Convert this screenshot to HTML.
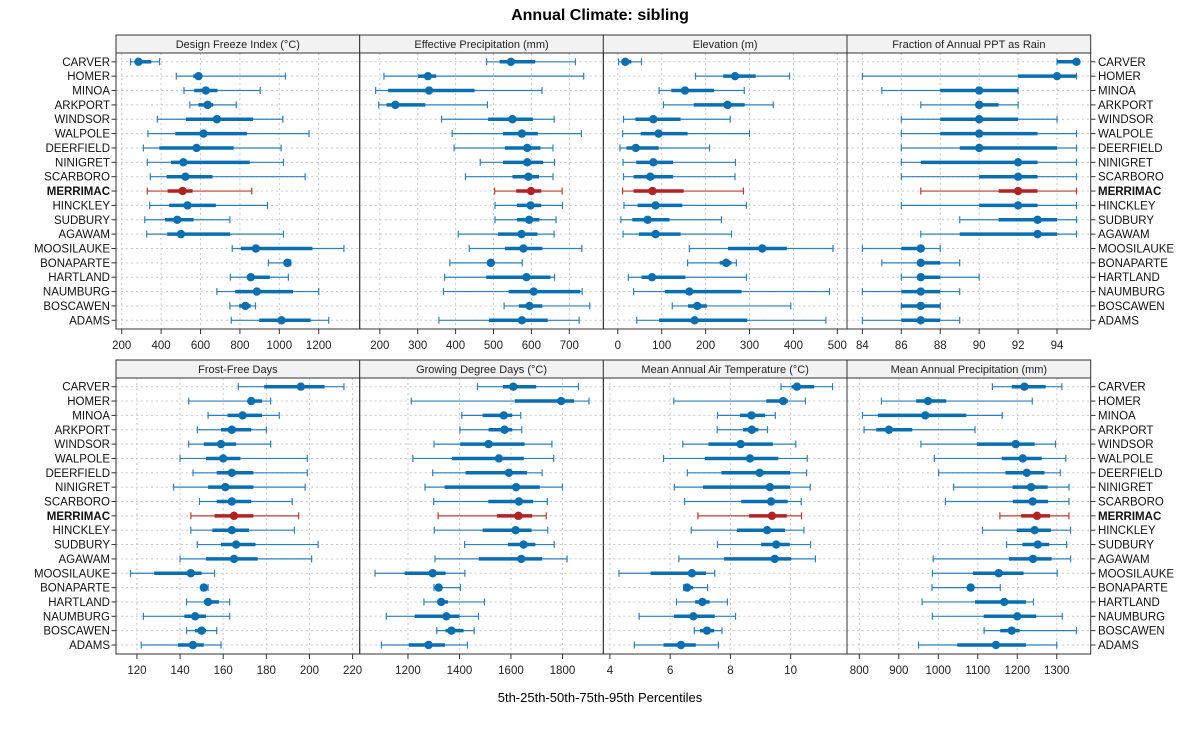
<!DOCTYPE html>
<html><head><meta charset="utf-8"><style>
body{margin:0;background:#fff;font-family:"Liberation Sans",sans-serif}
svg text{font-family:"Liberation Sans",sans-serif}
</style></head><body>
<svg id="chart" width="1200" height="725" viewBox="0 0 1200 725" xmlns="http://www.w3.org/2000/svg">
<text x="600" y="20" text-anchor="middle" font-size="16" font-weight="bold">Annual Climate: sibling</text>
<text x="600" y="702" text-anchor="middle" font-size="13">5th-25th-50th-75th-95th Percentiles</text>
</svg>
<script>
const sites=["CARVER","HOMER","MINOA","ARKPORT","WINDSOR","WALPOLE","DEERFIELD","NINIGRET","SCARBORO","MERRIMAC","HINCKLEY","SUDBURY","AGAWAM","MOOSILAUKE","BONAPARTE","HARTLAND","NAUMBURG","BOSCAWEN","ADAMS"];
const panelTitles=["Design Freeze Index (°C)","Effective Precipitation (mm)","Elevation (m)","Fraction of Annual PPT as Rain","Frost-Free Days","Growing Degree Days (°C)","Mean Annual Air Temperature (°C)","Mean Annual Precipitation (mm)"];
const domains=[[171,1408],[147,790],[-33,522],[83.21,95.73],[110.3,223.3],[1012.5,1959],[3.78,11.87],[768.8,1386]];
const ticks=[[200,400,600,800,1000,1200],[200,300,400,500,600,700],[0,100,200,300,400,500],[84,86,88,90,92,94],[120,140,160,180,200,220],[1200,1400,1600,1800],[4,6,8,10],[800,900,1000,1100,1200,1300]];
const freezeIndex=[[245,270,285,350,392],[477,563,590,600,1031],[516,568,627,686,903],[546,589,636,664,781],[381,526,683,867,1018],[333,472,615,835,1151],[310,391,580,768,1009],[330,450,513,850,1021],[345,428,523,661,1131],[330,433,509,560,860],[342,441,534,678,940],[317,420,482,565,749],[327,431,501,751,1021],[761,805,881,1168,1328],[945,1024,1041,1050,1058],[751,839,855,952,1046],[683,776,886,1070,1200],[749,796,828,855,879],[756,898,1011,1159,1251]];
const effPrecip=[[482,516,546,610,716],[211,301,327,349,738],[189,222,330,450,628],[197,218,241,320,484],[363,486,550,604,660],[391,525,575,617,732],[396,530,589,624,657],[465,525,589,631,661],[426,550,592,620,657],[503,560,599,626,681],[504,562,598,626,682],[504,562,594,621,665],[407,512,574,616,660],[436,530,579,629,733],[385,488,493,498,576],[371,481,587,650,661],[368,540,606,729,734],[528,567,595,629,754],[356,488,575,643,726]];
const elevation=[[2,11,17,31,54],[177,240,267,314,391],[94,122,153,219,288],[104,173,250,289,354],[13,40,81,143,256],[11,52,93,159,300],[5,20,41,93,209],[12,42,81,126,268],[13,36,74,126,267],[11,36,79,150,286],[14,45,86,147,293],[7,33,68,118,236],[12,48,86,143,259],[163,251,329,385,490],[159,232,247,259,270],[24,54,78,154,293],[36,107,163,282,482],[124,160,181,203,394],[43,94,175,295,474]];
const fracRain=[[94,94,95,95,95],[84,92,94,95,95],[85,88,90,92,92],[87,90,90,91,92],[86,88,90,92,94],[86,88,90,93,95],[86,89,90,94,95],[86,87,92,93,95],[86,90,92,93,95],[87,91,92,93,95],[86,90,92,93,95],[89,91,93,94,95],[87,89,93,94,95],[84,86,87,87,88],[85,87,87,88,89],[86,87,87,88,90],[84,86,87,88,89],[86,86,87,88,88],[84,86,87,88,89]];
const frostFree=[[167,179,196,207,216],[144,172,173,178,182],[153,162,169,178,186],[148,159,164,173,180],[144,151,159,166,182],[140,152,160,168,199],[146,157,164,174,199],[137,153,161,174,198],[149,157,164,173,192],[145,156,165,174,195],[145,155,164,172,193],[148,159,166,175,204],[140,152,165,176,201],[117,128,145,150,156],[150,150,151,152,153],[143,151,153,158,163],[123,142,147,152,163],[143,147,150,152,157],[122,139,146,151,159]];
const gdd=[[1470,1569,1609,1698,1862],[1213,1615,1795,1845,1903],[1409,1490,1572,1605,1638],[1402,1513,1575,1605,1642],[1301,1403,1513,1653,1759],[1219,1371,1553,1650,1766],[1296,1424,1592,1662,1721],[1266,1342,1620,1712,1800],[1300,1512,1631,1686,1741],[1317,1546,1629,1682,1737],[1302,1490,1618,1680,1743],[1420,1588,1649,1695,1768],[1305,1475,1640,1721,1818],[1072,1187,1296,1346,1421],[1301,1309,1319,1332,1404],[1262,1316,1329,1355,1497],[1116,1226,1349,1400,1474],[1312,1346,1369,1416,1457],[1097,1203,1280,1344,1431]];
const airTemp=[[9.68,10.03,10.21,10.78,11.39],[6.12,9.19,9.75,9.91,10.49],[7.57,8.32,8.70,9.15,9.49],[7.56,8.42,8.71,8.93,9.23],[6.42,7.27,8.34,9.41,10.17],[5.78,7.15,8.65,9.59,10.55],[6.57,7.70,8.97,9.98,10.53],[6.14,7.09,9.31,9.98,10.65],[6.48,8.36,9.35,9.9,10.35],[6.92,8.62,9.38,9.87,10.36],[6.70,8.22,9.22,9.81,10.44],[7.57,9.02,9.52,9.97,10.66],[6.29,7.79,9.47,10.02,10.82],[4.30,5.35,6.72,7.19,7.48],[6.45,6.46,6.56,6.76,7.24],[6.21,6.83,7.07,7.31,7.90],[4.97,6.13,6.77,7.48,8.17],[6.80,6.99,7.22,7.46,7.72],[4.81,5.78,6.36,6.85,7.60]];
const annPrecip=[[1137,1186,1218,1272,1313],[856,944,974,1020,1238],[808,847,967,1071,1162],[812,843,875,934,1093],[956,1098,1196,1244,1297],[990,1161,1214,1262,1323],[1001,1170,1224,1269,1309],[1039,1188,1235,1277,1331],[1018,1189,1239,1278,1331],[1156,1210,1250,1283,1331],[1112,1199,1244,1285,1335],[1173,1213,1252,1281,1325],[987,1179,1240,1287,1335],[985,1088,1153,1216,1301],[984,1076,1082,1089,1157],[959,1093,1167,1222,1241],[985,1115,1200,1248,1314],[1116,1157,1186,1206,1350],[950,1048,1146,1222,1300]];
const panelData=[freezeIndex,effPrecip,elevation,fracRain,frostFree,gdd,airTemp,annPrecip];
const panelNames=["design-freeze-index","effective-precipitation","elevation","fraction-rain","frost-free-days","growing-degree-days","mean-air-temperature","mean-annual-precipitation"];
const highlight="MERRIMAC";

const NS="http://www.w3.org/2000/svg";
const svg=document.getElementById('chart');
function mk(tag,attrs,parent){const e=document.createElementNS(NS,tag);for(const k in attrs)e.setAttribute(k,attrs[k]);(parent||svg).appendChild(e);return e;}
const lefts=[116,359.7,603.3,847],PW=243.7;
const rowsGeom=[{strip:35,top:53,bottom:329,first:61.8,last:320.3},{strip:360,top:378,bottom:654,first:386.7,last:645}];
function yScale(r,i){const g=rowsGeom[r];return g.first+i*(g.last-g.first)/(sites.length-1);}
for(let p=0;p<8;p++){
  const r=Math.floor(p/4),c=p%4,g=rowsGeom[r],L=lefts[c];
  const dom=panelData[p]?domains[p]:null;
  const xs=v=>L+(v-dom[0])/(dom[1]-dom[0])*PW;
  const grp=mk('g',{});
  
  
  const strip=mk('rect',{x:L,y:g.strip,width:PW,height:g.top-g.strip,fill:'#f2f2f2',stroke:'#333','stroke-width':1},grp);
  
  
  const st=mk('text',{x:L+PW/2,y:g.strip+13,'text-anchor':'middle','font-size':11,fill:'#222'},grp);
  st.textContent=panelTitles[p];
  
  
  // grid
  ticks[p].forEach(t=>{
    const x=xs(t);
    const gl=mk('line',{x1:x,x2:x,y1:g.top,y2:g.bottom,stroke:'#c8c8c8','stroke-dasharray':'2,3','stroke-width':1},grp);
    
    
    const tk=mk('line',{x1:x,x2:x,y1:g.bottom,y2:g.bottom+5,stroke:'#333'},grp);
    
    
    const tl=mk('text',{x:x,y:g.bottom+20,'text-anchor':'middle','font-size':11.5,fill:'#222'},grp);
    tl.textContent=t;
    
    
  });
  sites.forEach((s,i)=>{
    const y=yScale(r,i);
    const hl=mk('line',{x1:L,x2:L+PW,y1:y,y2:y,stroke:'#c8c8c8','stroke-dasharray':'2,3'},grp);
    
    
  });
  sites.forEach((s,i)=>{
    const d=panelData[p][i],y=yScale(r,i);
    const col=s===highlight?'#b22222':'#0a6fb0';
    const thin=s===highlight?'#c0392b':'#2a82c2';
    const m=mk('g',{},grp);
    
    
    mk('line',{x1:xs(d[0]),x2:xs(d[4]),y1:y,y2:y,stroke:thin,'stroke-width':1.2},m);
    mk('line',{x1:xs(d[0]),x2:xs(d[0]),y1:y-3.5,y2:y+3.5,stroke:thin,'stroke-width':1.2},m);
    mk('line',{x1:xs(d[4]),x2:xs(d[4]),y1:y-3.5,y2:y+3.5,stroke:thin,'stroke-width':1.2},m);
    mk('line',{x1:xs(d[1]),x2:xs(d[3]),y1:y,y2:y,stroke:col,'stroke-width':3.5},m);
    mk('circle',{cx:xs(d[2]),cy:y,r:4.2,fill:col},m);
  });
  const fr=mk('rect',{x:L,y:g.top,width:PW,height:g.bottom-g.top,fill:'none',stroke:'#333','stroke-width':1},grp);
  
  
}
// y labels
for(let r=0;r<2;r++){
  sites.forEach((s,i)=>{
    const y=yScale(r,i)+4;
    const a=mk('text',{x:110,y:y,'text-anchor':'end','font-size':11.5,fill:'#111','font-weight':s===highlight?'bold':'normal'});
    a.textContent=s;
    
    
    const b=mk('text',{x:1098,y:y,'text-anchor':'start','font-size':11.5,fill:'#111','font-weight':s===highlight?'bold':'normal'});
    b.textContent=s;
    
    
    mk('line',{x1:111.5,x2:116,y1:y-4,y2:y-4,stroke:'#333'});
    mk('line',{x1:1091,x2:1095.5,y1:y-4,y2:y-4,stroke:'#333'});
  });
}
</script>
</body></html>
